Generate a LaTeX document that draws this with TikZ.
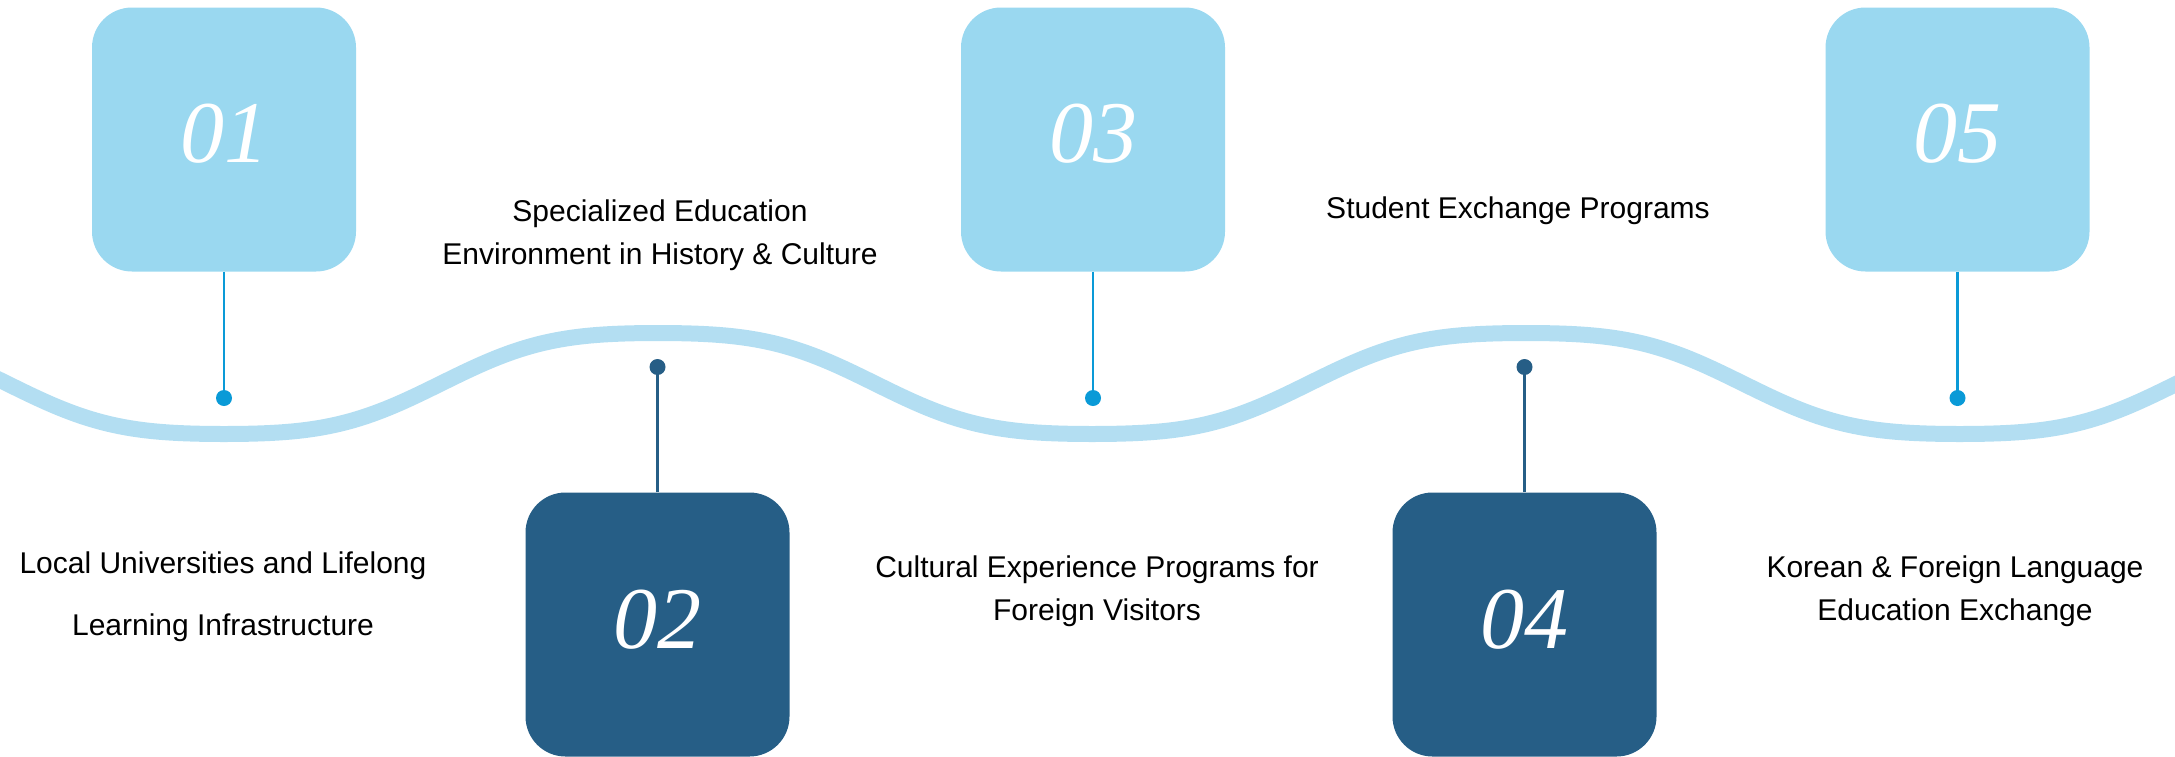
\documentclass[tikz,border=0pt]{standalone}
\usepackage{fontspec}
\setmainfont{Liberation Sans}
\newfontfamily\numfont{Liberation Serif}
\definecolor{boxlight}{HTML}{9AD8F0}
\definecolor{boxdark}{HTML}{265E86}
\definecolor{wavec}{HTML}{B3DEF2}
\definecolor{dotlight}{HTML}{0A9AD7}
\begin{document}
\begin{tikzpicture}[x=1pt,y=-1pt,
  lbox/.style={rectangle, rounded corners=40pt, minimum width=264pt, minimum height=264pt, inner sep=0pt, fill=boxlight},
  dbox/.style={rectangle, rounded corners=40pt, minimum width=264pt, minimum height=264pt, inner sep=0pt, fill=boxdark},
  num/.style={anchor=base, text=white, inner sep=0pt, font=\numfont\itshape\fontsize{88}{88}\selectfont},
  lbl/.style={anchor=base, align=center, text=black, inner sep=0pt},
  ldot/.style={circle, fill=dotlight, minimum size=16pt, inner sep=0pt},
  ddot/.style={circle, fill=boxdark, minimum size=16pt, inner sep=0pt},
  lstem/.style={draw=dotlight, line width=2.5pt},
  dstem/.style={draw=boxdark, line width=2.5pt},
  wave/.style={draw=wavec, line width=16pt}]
\useasboundingbox (0,0) rectangle (2175,756);
% wave
\draw[wave] plot[domain=-20:2195, samples=300, smooth]
  (\x, {383.5+50.5*(cos(0.414747*(\x-224))-0.08*cos(1.244241*(\x-224)))/0.92});
% boxes
\node[lbox] (b1) at (224,139.5) {};
\node[dbox] (b2) at (657.5,624.5) {};
\node[lbox] (b3) at (1093,139.5) {};
\node[dbox] (b4) at (1524.5,624.5) {};
\node[lbox] (b5) at (1957.5,139.5) {};
% numbers
\node[num] (n1) at (224,162) {01};
\node[num] (n2) at (657.5,648) {02};
\node[num] (n3) at (1093,162) {03};
\node[num] (n4) at (1524.5,648) {04};
\node[num] (n5) at (1957.5,162) {05};
% dots
\node[ldot] (d1) at (224,398) {};
\node[ddot] (d2) at (657.5,367) {};
\node[ldot] (d3) at (1093,398) {};
\node[ddot] (d4) at (1524.5,367) {};
\node[ldot] (d5) at (1957.5,398) {};
% stems
\draw[lstem] (b1.south) -- (d1.center);
\draw[dstem] (b2.north) -- (d2.center);
\draw[lstem] (b3.south) -- (d3.center);
\draw[dstem] (b4.north) -- (d4.center);
\draw[lstem] (b5.south) -- (d5.center);
% labels (anchor = baseline of the last line)
\node[lbl, font=\fontsize{30}{62}\selectfont] (t1) at (223,635) {Local Universities and Lifelong\\Learning Infrastructure};
\node[lbl, font=\fontsize{30}{43}\selectfont] (t2) at (660,264) {Specialized Education\\Environment in History \& Culture};
\node[lbl, font=\fontsize{30}{43}\selectfont] (t3) at (1097,620) {Cultural Experience Programs for\\Foreign Visitors};
\node[lbl, font=\fontsize{30}{43}\selectfont] (t4) at (1518,218) {Student Exchange Programs};
\node[lbl, font=\fontsize{30}{43}\selectfont] (t5) at (1955,620) {Korean \& Foreign Language\\Education Exchange};
\end{tikzpicture}
\end{document}
